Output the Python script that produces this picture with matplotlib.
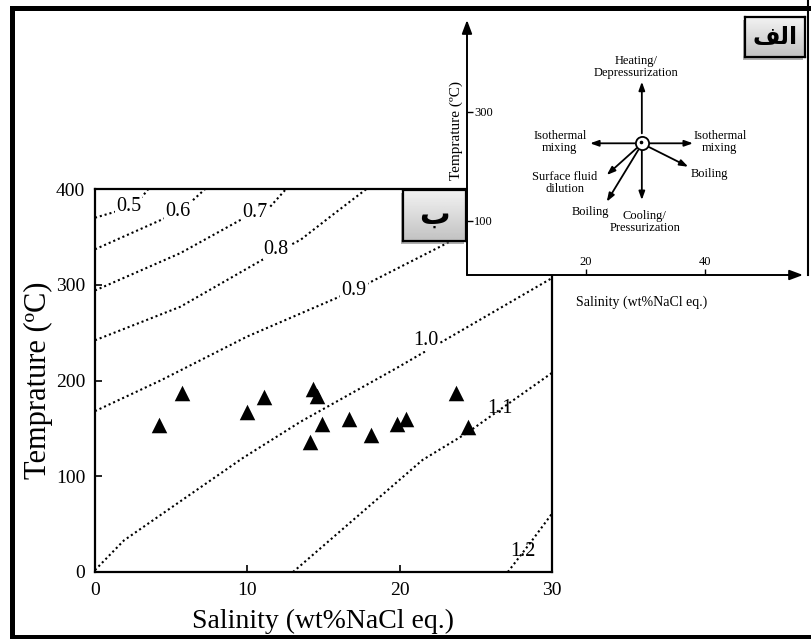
import matplotlib
matplotlib.use("Agg")
import matplotlib.pyplot as plt
import numpy as np
from matplotlib.patches import Rectangle

# ---------------- data ----------------
salinity = [4.2, 5.7, 10.0, 11.1, 14.3, 14.6, 14.9, 14.1, 16.7, 18.1, 19.8, 20.4, 23.7, 24.5]
temperature = [154, 187, 167, 183, 191, 184, 155, 136, 160, 143, 155, 160, 187, 151]

# iso-density lines (g/cm3)
d05_sal = [0, 1.5, 3.1, 3.6]
d05_temp = [370, 377, 392, 402]
d06_sal = [0, 4.8, 6.2, 7.3]
d06_temp = [337, 371, 385, 401]
d07_sal = [0, 5.6, 9.7, 11.3, 12.6]
d07_temp = [294, 333, 369, 378, 401]
d08_sal = [0, 5.6, 11.2, 13.5, 15.6, 17.9]
d08_temp = [242, 277, 328, 347, 373, 401]
d09_sal = [0, 4.3, 10.0, 13.5, 17.0, 23.3, 28.0]
d09_temp = [168, 200, 246, 270, 294, 345, 385]
d10_sal = [0, 1.9, 9.7, 13.5, 19.8, 30.0]
d10_temp = [2, 33, 119, 157, 213, 307]
d11_sal = [13.0, 21.5, 24.4, 30.0]
d11_temp = [0, 117, 145, 208]
d12_sal = [27.1, 28.6, 30.0]
d12_temp = [0, 31, 61]

density_labels = ["0.5", "0.6", "0.7", "0.8", "0.9", "1.0", "1.1", "1.2"]
label_sal = [2.2, 5.45, 10.5, 11.9, 17.0, 21.7, 26.6, 28.1]
label_temp = [382, 377, 375, 337, 294, 242, 171, 21]
label_masked = [True, True, True, True, True, True, False, False]

x_ticks = [0, 10, 20, 30]
y_ticks = [0, 100, 200, 300, 400]

# inset (schematic of processes)
inset_x_ticks = [20, 40]
inset_y_ticks = [100, 300]
center_sal, center_temp = 29.4, 241.7
arrow_start_sal = [29.4, 28.2, 30.5, 29.4, 30.5, 28.5, 28.8]
arrow_start_temp = [260, 241.7, 241.7, 229, 235.4, 232.5, 229.4]
arrow_tip_sal = [29.4, 20.7, 38.0, 29.4, 37.2, 23.5, 23.5]
arrow_tip_temp = [354.7, 241.7, 241.7, 137.6, 198.7, 183.5, 134.5]
process_labels = ["Heating/\nDepressurization", "Isothermal\nmixing", "Isothermal\nmixing",
                  "Cooling/\nPressurization", "Boiling", "Surface fluid\ndilution", "Boiling"]
process_label_sal = [28.5, 15.6, 42.5, 29.9, 40.8, 16.5, 20.7]
process_label_temp = [382, 244.6, 244.6, 97.8, 185, 168, 116]

SERIF = "Liberation Serif"
W, H = 811, 639

def fx(px):
    return px / W

def fy(py):
    return 1 - py / H

fig = plt.figure(figsize=(W / 100, H / 100), dpi=100)
fig.patch.set_facecolor("white")

# ---------------- main axes ----------------
ax = fig.add_axes([fx(95), fy(572), fx(552) - fx(95), fy(189) - fy(572)])
ax.set_zorder(0)
ax.set_xlim(0, 30)
ax.set_ylim(0, 400)
dot_style = dict(color="black", lw=1.5, linestyle=(0, (1, 1.4)))
for xs, ys in [(d05_sal, d05_temp), (d06_sal, d06_temp), (d07_sal, d07_temp),
               (d08_sal, d08_temp), (d09_sal, d09_temp), (d10_sal, d10_temp),
               (d11_sal, d11_temp), (d12_sal, d12_temp)]:
    ax.plot(xs, ys, **dot_style, zorder=1)
for t, xv, yv, m in zip(density_labels, label_sal, label_temp, label_masked):
    kw = {}
    if m:
        kw["bbox"] = dict(boxstyle="square,pad=0.05", fc="white", ec="none")
    ax.text(xv, yv, t, fontsize=14.5, family=SERIF, ha="center", va="center", zorder=2, **kw)
ax.scatter(salinity, temperature, marker="^", s=125, color="black", zorder=3, linewidths=0)
ax.set_xticks(x_ticks)
ax.set_yticks(y_ticks)
ax.tick_params(direction="in", length=5, width=1.2, labelsize=14, pad=7)
for lab in ax.get_xticklabels() + ax.get_yticklabels():
    lab.set_family(SERIF)
for s in ax.spines.values():
    s.set_linewidth(1.6)
ax.set_xlabel("Salinity (wt%NaCl eq.)", fontsize=20, family=SERIF)
ax.set_ylabel("Temprature (ºC)", fontsize=22, family=SERIF)
ax.xaxis.set_label_coords(0.5, (572 - 621) / 383)
ax.xaxis.label.set_va("center")
ax.yaxis.set_label_coords((38 - 95) / 457, 0.5)
ax.yaxis.label.set_va("center")

# ---------------- inset ----------------
ins = fig.add_axes([fx(467), fy(275), fx(803) - fx(467), fy(20) - fy(275)])
ins.set_zorder(1)
ins.set_facecolor("white")
ins.set_xlim(0, 56.5)
ins.set_ylim(0, 468)
for s in ins.spines.values():
    s.set_visible(False)
ins.annotate("", xy=(1, 0), xytext=(0, 0), xycoords="axes fraction",
             arrowprops=dict(arrowstyle="-|>,head_length=0.8,head_width=0.3", lw=1.4, color="black",
                             shrinkA=0, shrinkB=0))
ins.annotate("", xy=(0, 1), xytext=(0, 0), xycoords="axes fraction",
             arrowprops=dict(arrowstyle="-|>,head_length=0.8,head_width=0.3", lw=1.4, color="black",
                             shrinkA=0, shrinkB=0))
ins.set_xticks(inset_x_ticks)
ins.set_yticks(inset_y_ticks)
ins.tick_params(axis="both", direction="in", length=4, width=1, labelsize=9)
ins.tick_params(axis="y", pad=-5)
ins.tick_params(axis="x", pad=-5)
for lab in ins.get_yticklabels():
    lab.set_ha("left")
    lab.set_family(SERIF)
for lab in ins.get_xticklabels():
    lab.set_va("bottom")
    lab.set_family(SERIF)
for x0, y0, x1, y1 in zip(arrow_start_sal, arrow_start_temp, arrow_tip_sal, arrow_tip_temp):
    ins.annotate("", xy=(x1, y1), xytext=(x0, y0),
                 arrowprops=dict(arrowstyle="-|>,head_length=0.5,head_width=0.18", lw=1.3,
                                 color="black", shrinkA=0, shrinkB=0))
ins.plot([center_sal], [center_temp], marker="o", ms=9.5, mfc="white", mec="black", mew=1.3, zorder=5)
ins.plot([center_sal - 0.2], [center_temp + 2], marker="o", ms=1.6, color="black", zorder=6)
for t, xv, yv in zip(process_labels, process_label_sal, process_label_temp):
    ins.text(xv, yv, t, fontsize=9, family=SERIF, ha="center", va="center", linespacing=1.0)

fig.text(fx(456), fy(131), "Temprature (ºC)", rotation=90, fontsize=11, family=SERIF,
         ha="center", va="center", zorder=4)
fig.text(fx(642), fy(302), "Salinity (wt%NaCl eq.)", fontsize=10, family=SERIF,
         ha="center", va="center", zorder=4)

# right edge line of inset box
fig.add_artist(plt.Line2D([fx(808), fx(808)], [fy(0), fy(275)], color="black", lw=1.5,
                          transform=fig.transFigure, zorder=4))

# ---------------- label boxes ----------------
grad = np.linspace(0.95, 0.76, 64).reshape(-1, 1)

def label_box(x0, y0, x1, y1, text, size):
    sh = Rectangle((fx(x0 - 2), fy(y1 + 3)), fx(x1 - x0), fy(y0) - fy(y1), transform=fig.transFigure,
                   fc="#7a7a7a", ec="none", alpha=0.6, zorder=6)
    fig.add_artist(sh)
    bx = fig.add_axes([fx(x0), fy(y1), fx(x1) - fx(x0), fy(y0) - fy(y1)])
    bx.set_zorder(7)
    bx.imshow(grad, cmap="gray", vmin=0, vmax=1, aspect="auto", extent=[0, 1, 0, 1])
    bx.set_xticks([])
    bx.set_yticks([])
    for s in bx.spines.values():
        s.set_linewidth(1.6)
    bx.text(0.5, 0.5, text, fontsize=size, fontweight="bold", family=["DejaVu Sans"],
            ha="center", va="center", transform=bx.transAxes)

label_box(403, 190, 466, 241, "ب", 22)
label_box(745, 17, 805, 57, "\uFED2\uFEDF\uFE8D", 17)

# ---------------- outer frame ----------------
for (x0, y0, x1, y1) in [(10, 6, 811, 11), (10, 6, 15, 639), (10, 635, 811, 639)]:
    fig.add_artist(Rectangle((fx(x0), fy(y1)), fx(x1) - fx(x0), fy(y0) - fy(y1),
                             transform=fig.transFigure, fc="black", ec="none", zorder=10))

fig.savefig("out.png", dpi=100)
